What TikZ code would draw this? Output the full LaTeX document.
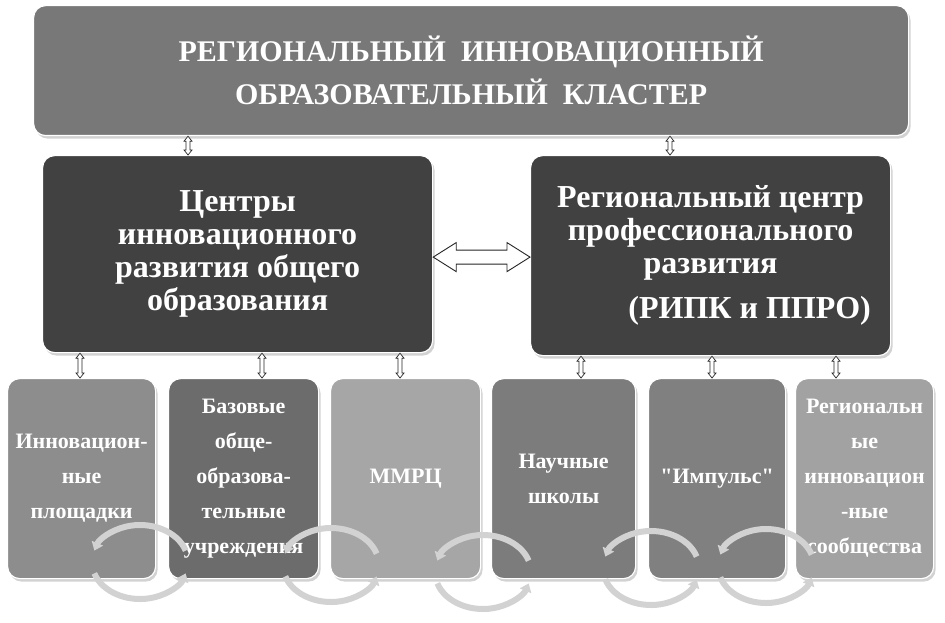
\documentclass[tikz,border=0pt]{standalone}
\usepackage{fontspec}
\setmainfont{Liberation Serif}[Ligatures=TeXOff]
\usetikzlibrary{shadows,calc,arrows.meta}
\definecolor{topc}{HTML}{787878}
\definecolor{darkc}{HTML}{414141}
\definecolor{bonec}{HTML}{8D8D8D}
\definecolor{btwoc}{HTML}{6C6C6C}
\definecolor{bthreec}{HTML}{A6A6A6}
\definecolor{bfourc}{HTML}{7C7C7C}
\definecolor{bfivec}{HTML}{808080}
\definecolor{bsixc}{HTML}{A2A2A2}
\definecolor{curvc}{HTML}{D2D2D2}
\newcommand\vdarr[3]{%
  \draw[arr] let \p1=(#2.south), \p2=(#3.north) in
   (#1pt,\y1) -- (#1pt+4pt,\y1-5pt) -- (#1pt+2pt,\y1-5pt) -- (#1pt+2pt,\y2+5pt)
   -- (#1pt+4pt,\y2+5pt) -- (#1pt,\y2) -- (#1pt-4pt,\y2+5pt) -- (#1pt-2pt,\y2+5pt)
   -- (#1pt-2pt,\y1-5pt) -- (#1pt-4pt,\y1-5pt) -- cycle;}
\begin{document}
\begin{tikzpicture}[x=1pt,y=1pt,
  box/.style={rounded corners=12pt, draw=white, line width=1.2pt, text=white,
    align=center, inner sep=2pt, anchor=north west,
    drop shadow={shadow xshift=2pt, shadow yshift=-3pt, opacity=0.35}},
  toptext/.style={font=\fontsize{30}{43}\selectfont\bfseries},
  midtext/.style={font=\fontsize{32}{33}\selectfont\bfseries},
  lowtext/.style={font=\fontsize{22}{35}\selectfont\bfseries},
  curv/.style={line width=6pt, draw=curvc, -{Triangle[width=12pt,length=8pt]}},
  arr/.style={fill=white, draw=black!85, line width=0.7pt, line join=miter}]
\useasboundingbox (0,0) rectangle (945,-623);
\fill[white] (0,0) rectangle (945,-623);

\node[box, toptext, fill=topc, minimum width=875pt, minimum height=130pt] (top) at (33,-5)
  {РЕГИОНАЛЬНЫЙ\ \ ИННОВАЦИОННЫЙ\\ОБРАЗОВАТЕЛЬНЫЙ\ \ КЛАСТЕР};

\node[box, midtext, fill=darkc, minimum width=390pt, minimum height=197pt] (left) at (42,-155)
  {Центры\\инновационного\\развития общего\\образования};
\node[box, midtext, fill=darkc, minimum width=360pt, minimum height=200pt] (right) at (530,-155)
  {Региональный центр\\профессионального\\развития\\[12pt]\hspace*{78pt}(РИПК и ППРО)};

\node[box, lowtext, fill=bonec, minimum width=148pt, minimum height=200pt] (b1) at (7,-378)
  {Инновацион-\\ные\\площадки};
\node[box, lowtext, fill=btwoc, minimum width=150pt, minimum height=200pt] (b2) at (168,-378)
  {Базовые\\обще-\\образова-\\тельные\\учреждения};
\node[box, lowtext, fill=bthreec, minimum width=150pt, minimum height=200pt] (b3) at (330,-378)
  {ММРЦ};
\node[box, lowtext, fill=bfourc, minimum width=144pt, minimum height=200pt] (b4) at (491,-378)
  {Научные\\школы};
\node[box, lowtext, fill=bfivec, minimum width=137pt, minimum height=200pt] (b5) at (648,-378)
  {"Импульс"};
\node[box, lowtext, fill=bsixc, minimum width=138pt, minimum height=200pt] (b6) at (795,-378)
  {Региональн\\ые\\инновацион\\-ные\\сообщества};

% connectors
\vdarr{188}{top}{left}
\vdarr{670}{top}{right}
\vdarr{80}{left}{b1}
\vdarr{262}{left}{b2}
\vdarr{400}{left}{b3}
\vdarr{581}{right}{b4}
\vdarr{712}{right}{b5}
\vdarr{836}{right}{b6}

\draw[arr, line width=0.9pt] let \p1=(left.east), \p2=(right.west), \n1={\y1/1pt-3} in
  (\x1,\n1) -- (\x1+23pt,\n1+14.5) -- (\x1+23pt,\n1+7) -- (\x2-23pt,\n1+7)
  -- (\x2-23pt,\n1+14.5) -- (\x2,\n1) -- (\x2-23pt,\n1-14.5) -- (\x2-23pt,\n1-7)
  -- (\x1+23pt,\n1-7) -- (\x1+23pt,\n1-14.5) -- cycle;

% cycle arrows
\foreach \cx/\cy in {140/562, 331/565, 483/572, 651/568, 766/566}{
  \draw[curv] (\cx,-\cy) ++(18:48 and 37) arc[start angle=18, end angle=162, x radius=48, y radius=37];
  \draw[curv] (\cx,-\cy) ++(198:48 and 37) arc[start angle=198, end angle=342, x radius=48, y radius=37];
}
\end{tikzpicture}
\end{document}
